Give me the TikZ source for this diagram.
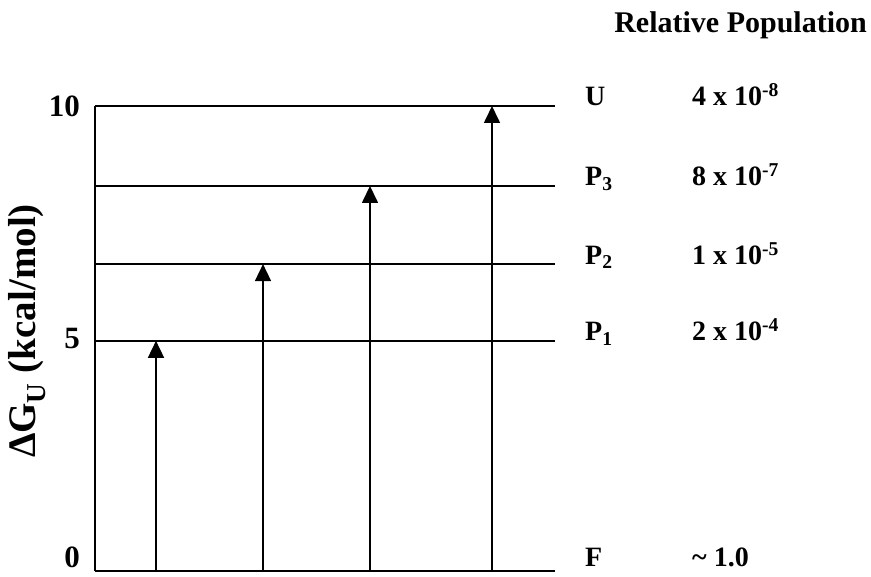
\documentclass[tikz,border=0pt]{standalone}
\usepackage{fontspec}
\setmainfont{Liberation Serif}
\usetikzlibrary{arrows.meta}

\begin{document}
\begin{tikzpicture}[x=1pt, y=1pt, line join=round, >={Triangle[length=17pt,width=16pt]}]
	\tikzset{level/.style={line width=1.6pt},
		lab/.style={anchor=base west, inner sep=0pt, font=\fontsize{28}{30}\selectfont\bfseries},
		tick/.style={anchor=east, inner sep=0pt, font=\fontsize{31}{34}\selectfont\bfseries}}
	\def \xl{95}
	\def \xr{555}
	\def \yo{6}
	\def \eu{46.5}
	\useasboundingbox (0,0) rectangle (871,577);
	
	% energy levels
	\foreach \n/\e in {F/0,P1/4.95,P2/6.6,P3/8.28,U/10}
	{
		\path (\xl,{\yo+\eu*\e}) coordinate (\n-l) (\xr,{\yo+\eu*\e}) coordinate (\n-r);
		\draw[level] (\n-l)--(\n-r);
	}
	\draw[level] (F-l)--(U-l);
	
	% transitions from F
	\foreach \x/\e/\n in {156/4.95/P1,263/6.6/P2,370/8.28/P3,492/10/U}
	{
		\path (\x,\yo) coordinate (s-\n) (\x,{\yo+\eu*\e}) coordinate (t-\n);
		\draw[level,->] (s-\n)--(t-\n);
	}
	
	\foreach \e/\t in {5/5,10/10} \node[tick] (tk\t) at (80,{\yo+\eu*\e}) {\t};
	\node[tick, anchor=base east] (tk0) at (80,9) {0};
	\node[rotate=90, font=\fontsize{39}{44}\selectfont\bfseries] (ylab) at (27,246) {ΔG\textsubscript{U} (kcal/mol)};
	
	\node[lab, anchor=base east, font=\fontsize{30}{32}\selectfont\bfseries] (title) at (867,544) {Relative Population};
	\foreach \n/\t/\v/\d in {U/U/{4 x 10\textsuperscript{-8}}/0,P3/{P\textsubscript{3}}/{8 x 10\textsuperscript{-7}}/0,P2/{P\textsubscript{2}}/{1 x 10\textsuperscript{-5}}/0,P1/{P\textsubscript{1}}/{2 x 10\textsuperscript{-4}}/0,F/F/{\textasciitilde\ 1.0}/4}
	\path (\n-r) ++(30,\d) node[lab] (n-\n) {\t} ++(107,0) node[lab] (v-\n) {\v};
\end{tikzpicture}
\end{document}
